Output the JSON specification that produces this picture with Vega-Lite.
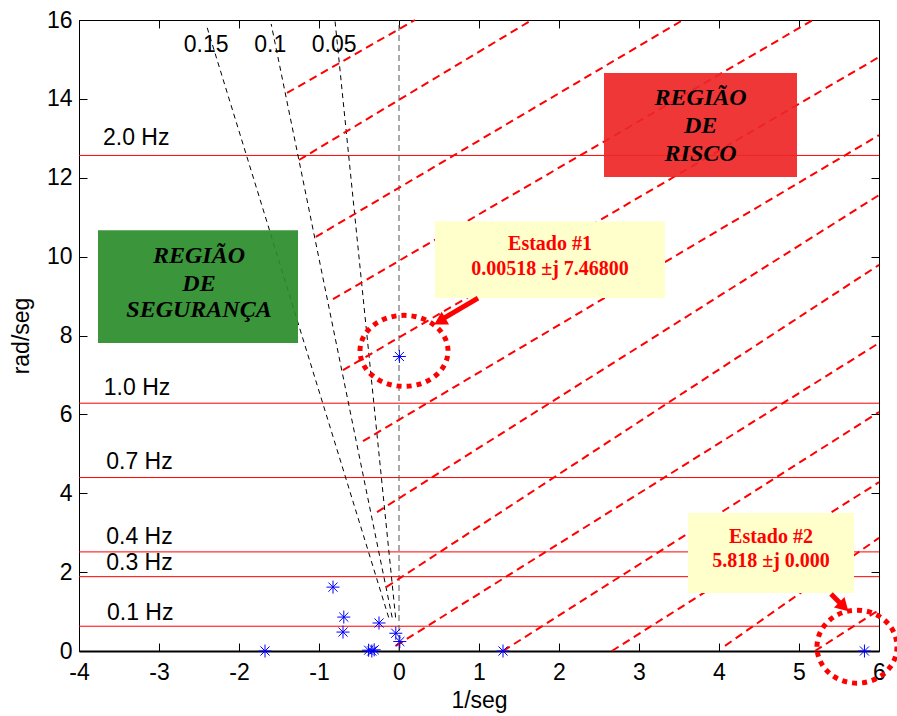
{
  "$schema": "https://vega.github.io/schema/vega-lite/v6.json",
  "width": 800,
  "height": 631,
  "autosize": {"type": "none"},
  "padding": {"left": 79, "top": 20, "right": 18, "bottom": 65},
  "background": "white",
  "config": {
    "view": {"stroke": "#000000", "strokeWidth": 1},
    "axis": {
      "labelFont": "Liberation Sans", "labelFontSize": 23, "labelColor": "#000000",
      "titleFont": "Liberation Sans", "titleFontSize": 23, "titleFontWeight": "normal", "titleColor": "#000000",
      "grid": false, "tickColor": "#000000", "domainColor": "#000000", "tickWidth": 1
    }
  },
  "datasets": {
    "horiz": [
      {"x": -4, "x2": 6, "y": 0.628, "y2": 0.628},
      {"x": -4, "x2": 6, "y": 1.885, "y2": 1.885},
      {"x": -4, "x2": 6, "y": 2.513, "y2": 2.513},
      {"x": -4, "x2": 6, "y": 4.398, "y2": 4.398},
      {"x": -4, "x2": 6, "y": 6.283, "y2": 6.283},
      {"x": -4, "x2": 6, "y": 12.566, "y2": 12.566}
    ],
    "zeta": [
      {"x": -0.129, "y": 0.85, "x2": -2.40, "y2": 15.82},
      {"x": -0.0854, "y": 0.85, "x2": -1.598, "y2": 15.9},
      {"x": -0.0425, "y": 0.85, "x2": -0.801, "y2": 16}
    ],
    "zeta0": [{"x": 0, "y": 0, "x2": 0, "y2": 16}],
    "hatch": [
      {"x": -1.40, "y": 14.15, "x2": 0.20, "y2": 16.0},
      {"x": -1.25, "y": 12.45, "x2": 1.66, "y2": 16.0},
      {"x": -1.04, "y": 10.50, "x2": 3.55, "y2": 16.0},
      {"x": -0.825, "y": 8.92, "x2": 5.175, "y2": 16.0},
      {"x": -0.70, "y": 7.12, "x2": 6.0, "y2": 15.06},
      {"x": -0.45, "y": 5.32, "x2": 6.0, "y2": 13.08},
      {"x": -0.275, "y": 3.52, "x2": 6.0, "y2": 11.56},
      {"x": -0.16, "y": 1.62, "x2": 6.0, "y2": 9.79},
      {"x": -0.04, "y": 0.13, "x2": 6.0, "y2": 7.81},
      {"x": 1.30, "y": 0, "x2": 6.0, "y2": 6.06},
      {"x": 2.66, "y": 0, "x2": 6.0, "y2": 4.28},
      {"x": 4.075, "y": 0.13, "x2": 6.0, "y2": 2.87},
      {"x": 5.2, "y": 0, "x2": 6.0, "y2": 1.04}
    ],
    "caixas": [
      {"x": -3.7625, "x2": -1.2625, "y": 7.81, "y2": 10.67, "c": "seg"},
      {"x": 2.5625, "x2": 4.975, "y": 12.02, "y2": 14.655, "c": "risco"}
    ],
    "amarelas": [
      {"x": 0.45, "x2": 3.325, "y": 8.95, "y2": 10.90},
      {"x": 3.6125, "x2": 5.6875, "y": 1.47, "y2": 3.50}
    ],
    "regioes": [
      {"x": -2.5, "y": 9.84, "t": "REGIÃO"},
      {"x": -2.5, "y": 9.13, "t": "DE"},
      {"x": -2.5, "y": 8.47, "t": "SEGURANÇA"},
      {"x": 3.77, "y": 13.84, "t": "REGIÃO"},
      {"x": 3.77, "y": 13.13, "t": "DE"},
      {"x": 3.77, "y": 12.42, "t": "RISCO"}
    ],
    "estados": [
      {"x": 1.8875, "y": 10.17, "t": "Estado #1"},
      {"x": 1.8875, "y": 9.53, "t": "0.00518 ±j 7.46800"},
      {"x": 4.65, "y": 2.74, "t": "Estado #2"},
      {"x": 4.65, "y": 2.13, "t": "5.818 ±j 0.000"}
    ],
    "hzlab": [
      {"x": -3.7, "y": 12.83, "t": "2.0 Hz"},
      {"x": -3.69, "y": 6.49, "t": "1.0 Hz"},
      {"x": -3.66, "y": 4.61, "t": "0.7 Hz"},
      {"x": -3.66, "y": 2.71, "t": "0.4 Hz"},
      {"x": -3.66, "y": 2.05, "t": "0.3 Hz"},
      {"x": -3.65, "y": 0.79, "t": "0.1 Hz"}
    ],
    "zlab": [
      {"x": -2.41, "y": 15.19, "t": "0.15"},
      {"x": -1.61, "y": 15.19, "t": "0.1"},
      {"x": -0.81, "y": 15.19, "t": "0.05"}
    ],
    "polos": [
      {"x": -1.675, "y": 0},
      {"x": -0.825, "y": 1.62},
      {"x": -0.69, "y": 0.86},
      {"x": -0.70, "y": 0.48},
      {"x": -0.25, "y": 0.71},
      {"x": -0.38, "y": 0.02},
      {"x": -0.34, "y": 0.0},
      {"x": -0.31, "y": 0.03},
      {"x": -0.04, "y": 0.45},
      {"x": 0.01, "y": 0.24},
      {"x": 0.00518, "y": 7.468},
      {"x": 1.3, "y": 0},
      {"x": 5.818, "y": 0}
    ],
    "elipses": [
      {"x": 0.0625, "y": 7.61, "e": "1"},
      {"x": 5.725, "y": 0.11, "e": "2"}
    ],
    "setas": [
      {"x": 0.9875, "y": 8.95, "x2": 0.5625, "y2": 8.44},
      {"x": 5.4, "y": 1.445, "x2": 5.525, "y2": 1.19}
    ],
    "pontas": [
      {"x": 0.51, "y": 8.36, "a": 240},
      {"x": 5.56, "y": 1.12, "a": 135}
    ]
  },
  "encoding": {
    "x": {"field": "x", "type": "quantitative", "scale": {"domain": [-4, 6], "nice": false, "zero": false}, "axis": null},
    "y": {"field": "y", "type": "quantitative", "scale": {"domain": [0, 16], "nice": false, "zero": false}, "axis": null}
  },
  "layer": [
    {
      "data": {"name": "horiz"},
      "mark": {"type": "rule", "color": "#ff0000", "strokeWidth": 1},
      "encoding": {
        "x": {"field": "x", "type": "quantitative", "scale": {"domain": [-4, 6], "nice": false, "zero": false},
          "axis": {"orient": "bottom", "values": [-4, -3, -2, -1, 0, 1, 2, 3, 4, 5, 6], "labelExpr": "replace(datum.label, '\u2212', '-')", "tickSize": -8, "labelPadding": 18, "domainWidth": 2, "title": "1/seg", "titleY": 56, "titleBaseline": "alphabetic", "labelFlush": false, "labelOverlap": false}},
        "x2": {"field": "x2"},
        "y": {"field": "y", "type": "quantitative", "scale": {"domain": [0, 16], "nice": false, "zero": false},
          "axis": {"orient": "left", "values": [0, 2, 4, 6, 8, 10, 12, 14, 16], "tickSize": -8, "labelPadding": 15, "domain": false, "title": "rad/seg", "titleX": -51, "titleY": 315.5, "titleAngle": -90, "titleBaseline": "alphabetic", "titleAlign": "center", "labelFlush": false, "labelOverlap": false}},
        "y2": {"field": "y2"}
      }
    },
    {
      "data": {"name": "zeta"},
      "mark": {"type": "rule", "color": "#000000", "strokeWidth": 1, "strokeDash": [5, 4]},
      "encoding": {
        "x": {"field": "x", "type": "quantitative", "scale": {"domain": [-4, 6], "nice": false, "zero": false},
          "axis": {"orient": "top", "values": [-4, -3, -2, -1, 0, 1, 2, 3, 4, 5, 6], "tickSize": -8, "labels": false, "domain": false, "title": null}},
        "x2": {"field": "x2"},
        "y": {"field": "y", "type": "quantitative", "scale": {"domain": [0, 16], "nice": false, "zero": false},
          "axis": {"orient": "right", "values": [0, 2, 4, 6, 8, 10, 12, 14, 16], "tickSize": -8, "labels": false, "domain": false, "title": null}},
        "y2": {"field": "y2"}
      }
    },
    {
      "data": {"name": "zeta0"},
      "mark": {"type": "rule", "color": "#555555", "strokeWidth": 1, "strokeDash": [6, 4]},
      "encoding": {"x2": {"field": "x2"}, "y2": {"field": "y2"}}
    },
    {
      "data": {"name": "hatch"},
      "mark": {"type": "rule", "color": "#ff0000", "strokeWidth": 2, "strokeDash": [8, 5]},
      "encoding": {"x2": {"field": "x2"}, "y2": {"field": "y2"}}
    },
    {
      "data": {"name": "caixas"},
      "mark": {"type": "rect", "opacity": 0.92},
      "encoding": {
        "x2": {"field": "x2"}, "y2": {"field": "y2"},
        "color": {"field": "c", "type": "nominal", "scale": {"domain": ["seg", "risco"], "range": ["#2a8c2a", "#ee2626"]}, "legend": null}
      }
    },
    {
      "data": {"name": "amarelas"},
      "mark": {"type": "rect", "color": "#ffffcc"},
      "encoding": {"x2": {"field": "x2"}, "y2": {"field": "y2"}}
    },
    {
      "data": {"name": "regioes"},
      "mark": {"type": "text", "font": "Liberation Serif", "fontSize": 24, "fontWeight": "bold", "fontStyle": "italic", "color": "#000000", "align": "center", "baseline": "alphabetic"},
      "encoding": {"text": {"field": "t"}}
    },
    {
      "data": {"name": "estados"},
      "mark": {"type": "text", "font": "Liberation Serif", "fontSize": 20, "fontWeight": "bold", "color": "#ff0000", "align": "center", "baseline": "alphabetic"},
      "encoding": {"text": {"field": "t"}}
    },
    {
      "data": {"name": "hzlab"},
      "mark": {"type": "text", "font": "Liberation Sans", "fontSize": 23, "color": "#000000", "align": "left", "baseline": "alphabetic"},
      "encoding": {"text": {"field": "t"}}
    },
    {
      "data": {"name": "zlab"},
      "mark": {"type": "text", "font": "Liberation Sans", "fontSize": 23, "color": "#000000", "align": "center", "baseline": "alphabetic"},
      "encoding": {"text": {"field": "t"}}
    },
    {
      "data": {"name": "polos"},
      "mark": {"type": "point", "shape": "M-1,0L1,0M0,-1L0,1M-0.7,-0.7L0.7,0.7M-0.7,0.7L0.7,-0.7", "size": 169, "filled": false, "stroke": "#0000ff", "strokeWidth": 1, "opacity": 1}
    },
    {
      "data": {"name": "elipses"},
      "transform": [{"filter": "datum.e == '1'"}],
      "mark": {"type": "point", "shape": "M-1,0A1,0.807,0,1,1,1,0A1,0.807,0,1,1,-1,0Z", "size": 7744, "filled": false, "stroke": "#ff0000", "strokeWidth": 5, "strokeDash": [5, 5], "opacity": 1}
    },
    {
      "data": {"name": "elipses"},
      "transform": [{"filter": "datum.e == '2'"}],
      "mark": {"type": "point", "shape": "M-1,0A1,0.9125,0,1,1,1,0A1,0.9125,0,1,1,-1,0Z", "size": 6400, "filled": false, "stroke": "#ff0000", "strokeWidth": 5, "strokeDash": [5, 5], "opacity": 1}
    },
    {
      "data": {"name": "setas"},
      "mark": {"type": "rule", "color": "#ff0000", "strokeWidth": 5},
      "encoding": {"x2": {"field": "x2"}, "y2": {"field": "y2"}}
    },
    {
      "data": {"name": "pontas"},
      "mark": {"type": "point", "shape": "triangle-up", "size": 220, "filled": true, "color": "#ff0000", "opacity": 1},
      "encoding": {"angle": {"field": "a", "type": "quantitative", "scale": null}}
    }
  ],
  "resolve": {"axis": {"x": "independent", "y": "independent"}}
}
